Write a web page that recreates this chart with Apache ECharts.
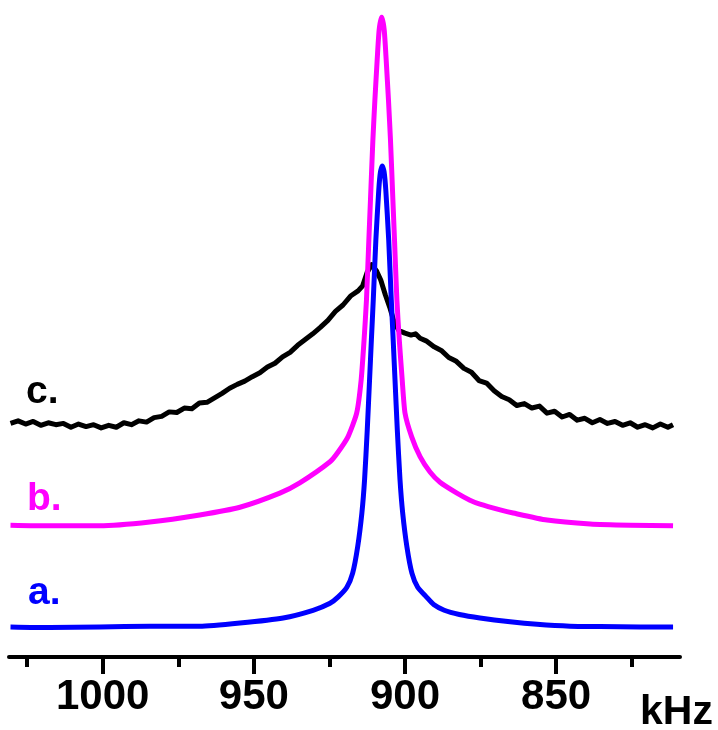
<!DOCTYPE html>
<html>
<head>
<meta charset="utf-8">
<script src="https://cdn.jsdelivr.net/npm/echarts@6/dist/echarts.min.js"></script>
<style>
  html, body { margin: 0; padding: 0; background: #ffffff; }
  #chart { width: 718px; height: 730px; }
</style>
</head>
<body>
<div id="chart"></div>
<script>
// ---- data (frequency in kHz, intensity in arbitrary units incl. vertical offset) ----
const majorTicks = [850, 900, 950, 1000];
const minorTicks = [825, 875, 925, 975, 1025];
const seriesNames = ['a.', 'b.', 'c.'];

// a. (blue)
const freqA = [1030.5, 1017.5, 1001.0, 984.4, 967.9, 954.6, 940.3, 930.4, 924.8, 922.07,
  919.22, 917.3, 915.65, 914.25, 913.36, 912.47, 911.71, 911.11, 910.48, 909.62,
  908.66, 908.1, 907.5, 906.9, 906.34, 905.38, 904.52, 903.89, 903.29, 902.53,
  901.64, 900.75, 899.35, 897.7, 895.78, 892.93, 890.5, 887.0, 882.0, 875.2,
  865.2, 856.3, 845.4, 835.4, 822.2, 811.3];
const intA = [4.7, 4.6, 4.7, 4.8, 4.8, 5.3, 6.1, 7.3, 8.4, 9.4,
  10.9, 13.1, 17.2, 22.5, 27.7, 35.5, 43.3, 49.5, 55.8, 65.2,
  73.0, 75.8, 76.7, 75.8, 73.0, 65.2, 55.8, 49.5, 43.3, 35.5,
  27.7, 22.5, 17.2, 13.1, 10.9, 9.4, 8.2, 7.3, 6.65, 6.1,
  5.5, 5.1, 4.8, 4.75, 4.7, 4.7];

// b. (magenta)
const freqB = [1030.5, 1017.5, 1001.0, 984.4, 967.9, 954.6, 941.4, 934.8, 924.8, 922.17,
  918.86, 915.98, 914.49, 913.53, 912.73, 911.94, 911.41, 910.61, 909.95, 909.19,
  908.53, 907.7, 906.87, 906.21, 905.45, 904.79, 903.99, 903.46, 902.67, 901.87,
  900.91, 899.98, 897.77, 895.0, 891.7, 888.4, 882.8, 878.5, 875.2, 868.5,
  864.2, 853.0, 838.7, 825.5, 811.3];
const intB = [20.6, 20.5, 20.5, 21.1, 22.2, 23.4, 25.6, 27.2, 30.5, 32.0,
  34.4, 38.1, 43.3, 49.5, 55.8, 65.2, 71.4, 80.8, 87.0, 93.3,
  98.0, 100, 98.0, 93.3, 87.0, 80.8, 71.4, 65.2, 55.8, 49.5,
  43.3, 38.1, 34.4, 31.3, 28.9, 27.3, 25.6, 24.5, 23.9, 23.0,
  22.5, 21.4, 20.8, 20.6, 20.5];

// c. (black, noisy)
const freqC = [1030.5, 1028, 1025.5, 1023, 1020.5, 1018, 1015.5, 1013, 1010.5, 1008,
  1005.5, 1003, 1000.5, 998, 995.5, 993, 990.5, 988, 985.5, 983,
  980.5, 978, 975.5, 973, 970.5, 968, 965.5, 963, 960.5, 958,
  955.5, 953, 950.5, 948, 945.5, 943, 940.5, 938, 935.5, 933,
  930.5, 928, 925.5, 923, 920.5, 918, 915.5, 914, 912.5, 911,
  909.5, 908, 906.5, 905, 903.5, 902, 900, 898, 896.5, 895,
  893, 890.5, 888, 885.5, 883, 880.5, 878, 875.5, 873, 870.5,
  868, 865.5, 863, 860.5, 858, 855.5, 853, 850.5, 848, 845.5,
  843, 840.5, 838, 835.5, 833, 830.5, 828, 825.5, 823, 820.5,
  818, 815.5, 813, 811.3];
const intC = [36.5, 36.9, 36.4, 36.8, 36.2, 36.6, 36.3, 36.5, 35.9, 36.4,
  36.0, 36.3, 35.8, 36.2, 35.9, 36.6, 36.3, 36.9, 36.7, 37.4,
  37.6, 38.3, 38.2, 38.9, 38.8, 39.7, 39.8, 40.5, 41.2, 42.0,
  42.6, 43.1, 43.8, 44.4, 45.3, 45.9, 46.9, 47.6, 48.7, 49.6,
  50.5, 51.5, 52.6, 54.0, 55.0, 56.4, 57.2, 58.0, 60.1, 61.3,
  60.4, 58.9, 56.6, 54.6, 52.2, 51.0, 50.6, 50.3, 50.5, 49.8,
  49.4, 48.5, 47.9, 46.8, 46.2, 45.1, 44.5, 43.2, 42.8, 41.6,
  40.7, 40.2, 39.3, 39.6, 38.9, 39.2, 38.1, 38.4, 37.5, 37.9,
  37.0, 37.3, 36.6, 37.1, 36.5, 36.8, 36.2, 36.6, 35.9, 36.3,
  35.8, 36.4, 35.9, 36.3];

// ---- chart ----
const FONT = '"Liberation Sans", Arial, Helvetica, sans-serif';
const zip = (xs, ys) => xs.map((x, i) => [x, ys[i]]);

const chart = echarts.init(document.getElementById('chart'), null, { renderer: 'canvas' });

const axisBase = {
  type: 'value', min: 809, max: 1031, inverse: true, position: 'bottom',
  splitLine: { show: false }
};

const option = {
  animation: false,
  backgroundColor: '#ffffff',
  grid: { left: 9, right: 38, top: 17, bottom: 73, containLabel: false, outerBoundsMode: 'none' },
  xAxis: [
    Object.assign({}, axisBase, {
      axisLine: { show: true, lineStyle: { color: '#000', width: 4, cap: 'round' } },
      axisTick: { show: true, customValues: majorTicks, length: 17, lineStyle: { color: '#000', width: 4 } },
      axisLabel: { show: true, customValues: majorTicks, fontSize: 42, fontWeight: 'bold',
        fontFamily: FONT, color: '#000', margin: 19, formatter: v => String(v) }
    }),
    Object.assign({}, axisBase, {
      axisLine: { show: false },
      axisTick: { show: true, customValues: minorTicks, length: 10, lineStyle: { color: '#000', width: 4 } },
      axisLabel: { show: false }
    })
  ],
  yAxis: { type: 'value', min: 0, max: 100, show: false },
  series: [
    { name: seriesNames[2], type: 'line', data: zip(freqC, intC), showSymbol: false,
      lineStyle: { color: '#000000', width: 5, join: 'round' }, itemStyle: { color: '#000000' } },
    { name: seriesNames[1], type: 'line', data: zip(freqB, intB), showSymbol: false,
      smooth: 0.2, lineStyle: { color: '#FF00FF', width: 5, join: 'round' }, itemStyle: { color: '#FF00FF' } },
    { name: seriesNames[0], type: 'line', data: zip(freqA, intA), showSymbol: false,
      smooth: 0.2, lineStyle: { color: '#0000FF', width: 5, join: 'round' }, itemStyle: { color: '#0000FF' } }
  ],
  graphic: [
    { type: 'text', left: 26, top: 373, style: { text: seriesNames[2], font: 'bold 39px ' + FONT, fill: '#000000' } },
    { type: 'text', left: 27, top: 480, style: { text: seriesNames[1], font: 'bold 39px ' + FONT, fill: '#FF00FF' } },
    { type: 'text', left: 28, top: 574, style: { text: seriesNames[0], font: 'bold 39px ' + FONT, fill: '#0000FF' } },
    { type: 'text', left: 640, top: 692, style: { text: 'kHz', font: 'bold 41px ' + FONT, fill: '#000000' } }
  ]
};
chart.setOption(option);
</script>
</body>
</html>
